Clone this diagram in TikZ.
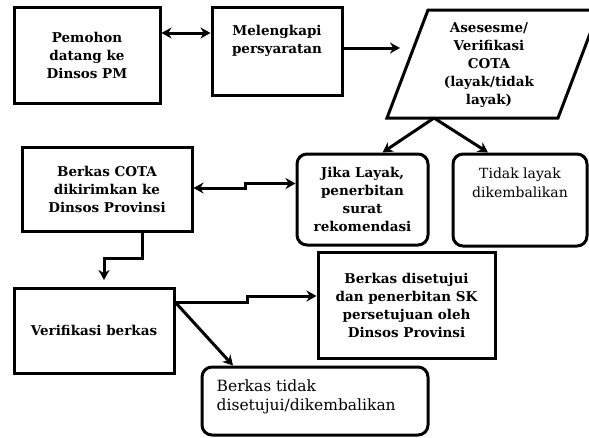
\documentclass[tikz,border=0pt]{standalone}
\usepackage{fontspec}
\setmainfont{DejaVu Serif}
\usetikzlibrary{arrows.meta, positioning, calc}

\begin{document}
\begin{tikzpicture}[
        x=1pt, y=-1pt,
        box/.style={rectangle, draw, line width=3pt, align=center, inner sep=0pt, font=\fontsize{13.5}{18}\selectfont\bfseries},
        rbox/.style={box, rounded corners=10pt},
        note/.style={align=center, inner sep=0pt, font=\fontsize{14}{19}\selectfont},
        arrow/.style={-{Stealth[length=10pt, width=11pt]}, line width=3pt},
        dblarrow/.style={{Stealth[length=10pt, width=11pt]}-{Stealth[length=10pt, width=11pt]}, line width=3pt}
    ]
        \useasboundingbox (0,0) rectangle (589,437);

        \node[box, minimum width=146pt, minimum height=96pt] (pemohon) at (87,55) {Pemohon\\datang ke\\Dinsos PM};
        \node[box, minimum width=130pt, minimum height=88pt] (lengkap) at (277,51) {};
        \node[note, font=\fontsize{13.5}{18}\selectfont\bfseries, anchor=north] (lengkaptxt) at ([yshift=-20pt]lengkap.north) {Melengkapi\\persyaratan};

        % kotak asesmen (jajaran genjang)
        \draw[line width=3pt] (387,118) -- (558,118) -- (599,10) -- (428,10) -- cycle;
        \node[box, draw=none] (asesmen) at (489,65) {Asesesme/\\Verifikasi\\COTA\\(layak/tidak\\layak)};
        \coordinate (asesin) at (400,48);
        \coordinate (cabang) at (434,118);

        \node[rbox, minimum width=131pt, minimum height=91pt] (jika) at (362.5,199.5) {Jika Layak,\\penerbitan\\surat\\rekomendasi};
        \node[rbox, minimum width=134pt, minimum height=92pt] (tidak) at (520,200) {};
        \node[note, anchor=north] (tidaktxt) at ([yshift=-15pt]tidak.north) {Tidak layak\\dikembalikan};

        \node[box, minimum width=170pt, minimum height=84pt] (cota) at (107,189) {Berkas COTA\\dikirimkan ke\\Dinsos Provinsi};
        \coordinate (verin) at (104,280);

        \node[box, minimum width=160pt, minimum height=85pt] (verif) at (94,330.5) {Verifikasi berkas};
        \node[box, minimum width=177pt, minimum height=106pt] (setuju) at (406.5,305) {Berkas disetujui\\dan penerbitan SK\\persetujuan oleh\\Dinsos Provinsi};
        \node[rbox, minimum width=226pt, minimum height=68pt] (tolak) at (315,401) {};
        \node[note, font=\fontsize{15.5}{19}\selectfont, align=left, anchor=west] (tolaktxt) at ([xshift=16pt, yshift=4pt]tolak.west) {Berkas tidak\\disetujui/dikembalikan};

        \draw[dblarrow] ([yshift=22pt]pemohon.east) -- ([yshift=18pt]lengkap.west);
        \draw[arrow] ([yshift=3pt]lengkap.east) -- (asesin);
        \draw[arrow] (cabang) -- ([xshift=20pt]jika.north);
        \draw[arrow] (cabang) -- ([xshift=-32pt]tidak.north);
        \draw[dblarrow] ([yshift=1pt]cota.east) -- ++(52,0) |- ([yshift=16pt]jika.west);
        \draw[arrow] ([xshift=35pt]cota.south) -- ++(0,26) -| (verin);
        \draw[arrow] ([yshift=28pt]verif.east) -- ++(72,0) |- ([yshift=9pt]setuju.west);
        \draw[arrow] ([yshift=28pt]verif.east) -- ([xshift=-82pt]tolak.north);
    \end{tikzpicture}
\end{document}
